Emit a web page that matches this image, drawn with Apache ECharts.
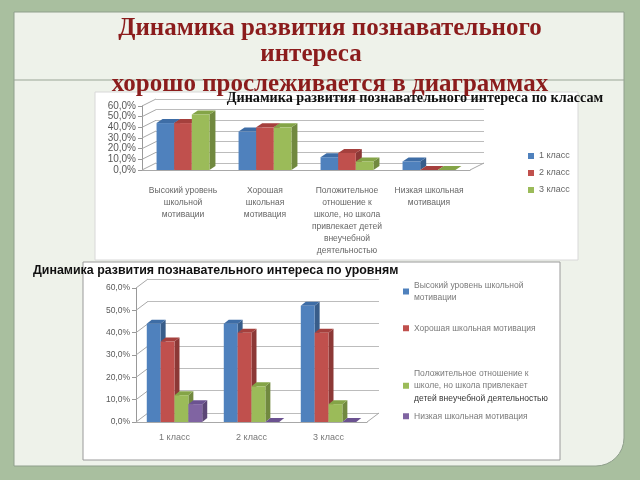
<!DOCTYPE html>
<html>
<head>
<meta charset="utf-8">
<script src="https://cdn.jsdelivr.net/npm/echarts@6/dist/echarts.min.js"></script>
<style>
html, body { margin: 0; padding: 0; }
#chart { width: 640px; height: 480px; }
</style>
</head>
<body>
<div id="chart"></div>
<script>
// Данные слайда
const levels = [
    'Высокий уровень школьной мотивации',
    'Хорошая школьная мотивация',
    'Положительное отношение к школе, но школа привлекает детей внеучебной деятельностью',
    'Низкая школьная мотивация'
];
const levelAxisLabels = [
    'Высокий уровень\nшкольной\nмотивации',
    'Хорошая\nшкольная\nмотивация',
    'Положительное\nотношение к\nшколе, но школа\nпривлекает детей\nвнеучебной\nдеятельностью',
    'Низкая школьная\nмотивация'
];
const levelLegendLabels = [
    'Высокий уровень школьной\nмотивации',
    'Хорошая школьная мотивация',
    '{g|Положительное отношение к}\n{g|школе, но школа привлекает}\n{d|детей внеучебной деятельностью}',
    'Низкая школьная мотивация'
];
const classes = ['1 класс', '2 класс', '3 класс'];
// % по уровням для каждого класса
const class1 = [44, 36, 12, 8];
const class2 = [44, 40, 16, 0];
const class3 = [52, 40, 8, 0];
const yTicks = [0, 10, 20, 30, 40, 50, 60];
const yTickLabels = ['0,0%', '10,0%', '20,0%', '30,0%', '40,0%', '50,0%', '60,0%'];

const colors = ['#4F81BD', '#C0504D', '#9BBB59', '#8064A2'];
const sides = ['#385D8A', '#8C3836', '#71893F', '#5C4776'];
const tops = ['#3E6DA6', '#A5403D', '#84A447', '#6B5290'];

const chart = echarts.init(document.getElementById('chart'));

// столбик "3D": фронт, боковая грань, верх
function bar3d(idx, count, frac, dx, dy) {
    return function (params, api) {
        const c = api.value(0), v = api.value(1);
        const base = api.coord([c, 0]);
        const top = api.coord([c, v]);
        const band = api.size([1, 0])[0];
        const w = band * frac;
        const x = base[0] - w * count / 2 + w * idx;
        const y0 = base[1], y1 = top[1];
        return {
            type: 'group',
            children: [
                { type: 'polygon', shape: { points: [[x + w, y1], [x + w + dx, y1 - dy], [x + w + dx, y0 - dy], [x + w, y0]] }, style: { fill: sides[idx] } },
                { type: 'polygon', shape: { points: [[x, y1], [x + dx, y1 - dy], [x + w + dx, y1 - dy], [x + w, y1]] }, style: { fill: tops[idx] } },
                { type: 'rect', shape: { x: x, y: y1, width: w, height: y0 - y1 }, style: { fill: colors[idx] } }
            ]
        };
    };
}

// диагонали от передней оси к задней стенке
function wallLines(dx, dy) {
    return function (params, api) {
        const cs = params.coordSys;
        const y = api.coord([0, api.value(1)])[1];
        const st = { stroke: '#a8a8a8', lineWidth: 1 };
        const children = [{ type: 'line', shape: { x1: cs.x, y1: y, x2: cs.x + dx, y2: y - dy }, style: st }];
        if (api.value(1) === 0) {
            children.push({ type: 'line', shape: { x1: cs.x + cs.width, y1: y, x2: cs.x + cs.width + dx, y2: y - dy }, style: st });
        }
        return { type: 'group', children: children };
    };
}

const fmtY = v => yTickLabels[yTicks.indexOf(v)];

function valueAxis(grid, front, fontSize) {
    return {
        type: 'value', gridIndex: grid, min: 0, max: 60, interval: 10,
        axisLabel: { show: front, formatter: fmtY, color: '#595959', fontSize: fontSize, fontFamily: 'Liberation Sans', margin: 6 },
        axisLine: { show: front, lineStyle: { color: '#999' } },
        axisTick: { show: front, length: 4, lineStyle: { color: '#999' } },
        splitLine: { show: !front, lineStyle: { color: '#bcbcbc', width: 1 } }
    };
}

const byClass = [class1, class2, class3];
const series = [];

// верхняя диаграмма: по классам
classes.forEach((name, i) => {
    series.push({
        name: name, type: 'custom', xAxisIndex: 0, yAxisIndex: 0,
        itemStyle: { color: colors[i] },
        renderItem: bar3d(i, classes.length, 0.215, 6, 4),
        data: levels.map((_, j) => [j, byClass[i][j]]),
        z: 3
    });
});
series.push({
    type: 'custom', xAxisIndex: 0, yAxisIndex: 0, silent: true,
    renderItem: wallLines(14, 7),
    data: yTicks.map(v => [0, v]), z: 1
});

// нижняя диаграмма: по уровням
levels.forEach((name, i) => {
    series.push({
        name: name, type: 'custom', xAxisIndex: 2, yAxisIndex: 2,
        itemStyle: { color: colors[i] },
        renderItem: bar3d(i, levels.length, 0.18, 5, 4),
        data: classes.map((_, j) => [j, byClass[j][i]]),
        z: 3
    });
});
series.push({
    type: 'custom', xAxisIndex: 2, yAxisIndex: 2, silent: true,
    renderItem: wallLines(12, 9),
    data: yTicks.map(v => [0, v]), z: 1
});

const titleFont = { fontFamily: 'Liberation Serif', fontWeight: 'bold', fontSize: 25, color: '#8B1C1C', lineHeight: 26 };

const bottomLegendTops = [274, 317, 362, 405];

const option = {
    backgroundColor: '#a9bf9f',
    animation: false,
    graphic: [
        { type: 'rect', z: -20, shape: { x: 14, y: 12, width: 610, height: 454, r: [0, 0, 28, 0] }, style: { fill: '#eef2ea', stroke: '#8f9f8c', lineWidth: 1 } },
        { type: 'line', z: -19, shape: { x1: 14, y1: 80, x2: 624, y2: 80 }, style: { stroke: '#9aa596', lineWidth: 1 } },
        { type: 'rect', z: -18, shape: { x: 95, y: 92, width: 483, height: 168 }, style: { fill: '#ffffff', stroke: '#d8d8d8', lineWidth: 1 } },
        { type: 'rect', z: -18, shape: { x: 83, y: 262, width: 477, height: 198 }, style: { fill: '#ffffff', stroke: '#9a9a9a', lineWidth: 1 } }
    ],
    title: [
        { text: 'Динамика развития познавательного', left: 325, top: 11, textAlign: 'center', textStyle: titleFont },
        { text: 'интереса', left: 306, top: 37, textAlign: 'center', textStyle: titleFont },
        { text: 'хорошо прослеживается в диаграммах', left: 325, top: 67, textAlign: 'center', textStyle: titleFont },
        { text: 'Динамика развития познавательного интереса по классам', left: 410, top: 85, textAlign: 'center',
          textStyle: { fontFamily: 'Liberation Serif', fontWeight: 'bold', fontSize: 14.2, color: '#111', lineHeight: 16 } },
        { text: 'Динамика развития познавательного интереса по уровням', left: 28, top: 259,
          textStyle: { fontFamily: 'Liberation Sans', fontWeight: 'bold', fontSize: 12.4, color: '#111', lineHeight: 14 } }
    ],
    legend: [
        { data: classes, orient: 'vertical', left: 523, top: 145, itemWidth: 6, itemHeight: 6, itemGap: 5, icon: 'rect',
          selectedMode: false, textStyle: { fontSize: 9, lineHeight: 12, color: '#666', fontFamily: 'Liberation Sans' } }
    ].concat(levels.map((name, i) => ({
        data: [name], orient: 'vertical', left: 398, top: bottomLegendTops[i], itemWidth: 6, itemHeight: 6, icon: 'rect',
        selectedMode: false,
        formatter: () => levelLegendLabels[i],
        textStyle: {
            fontSize: 8.5, lineHeight: 12.5, color: '#7a7a7a', fontFamily: 'Liberation Sans',
            rich: {
                g: { fontSize: 8.5, lineHeight: 12.5, color: '#7a7a7a', fontFamily: 'Liberation Sans' },
                d: { fontSize: 8.5, lineHeight: 12.5, color: '#333', fontFamily: 'Liberation Sans' }
            }
        }
    }))),
    grid: [
        { left: 142, top: 106, width: 328, height: 64 },
        { left: 156, top: 99, width: 328, height: 64 },
        { left: 136, top: 288, width: 231, height: 134 },
        { left: 148, top: 279, width: 231, height: 134 }
    ],
    xAxis: [
        { type: 'category', gridIndex: 0, data: levels,
          axisLabel: { interval: 0, formatter: (v, i) => levelAxisLabels[i], fontSize: 8.5, lineHeight: 12, color: '#666', fontFamily: 'Liberation Sans', margin: 15 },
          axisLine: { lineStyle: { color: '#a8a8a8' } }, axisTick: { length: 4, lineStyle: { color: '#999' } } },
        { type: 'category', gridIndex: 1, data: levels, show: false },
        { type: 'category', gridIndex: 2, data: classes,
          axisLabel: { fontSize: 9, color: '#777', fontFamily: 'Liberation Sans', margin: 11 },
          axisLine: { lineStyle: { color: '#a8a8a8' } }, axisTick: { length: 4, lineStyle: { color: '#999' } } },
        { type: 'category', gridIndex: 3, data: classes, show: false }
    ],
    yAxis: [
        valueAxis(0, true, 10),
        valueAxis(1, false, 10),
        valueAxis(2, true, 8.5),
        valueAxis(3, false, 8.5)
    ],
    series: series
};

chart.setOption(option);
window.addEventListener('resize', () => chart.resize());
</script>
</body>
</html>
